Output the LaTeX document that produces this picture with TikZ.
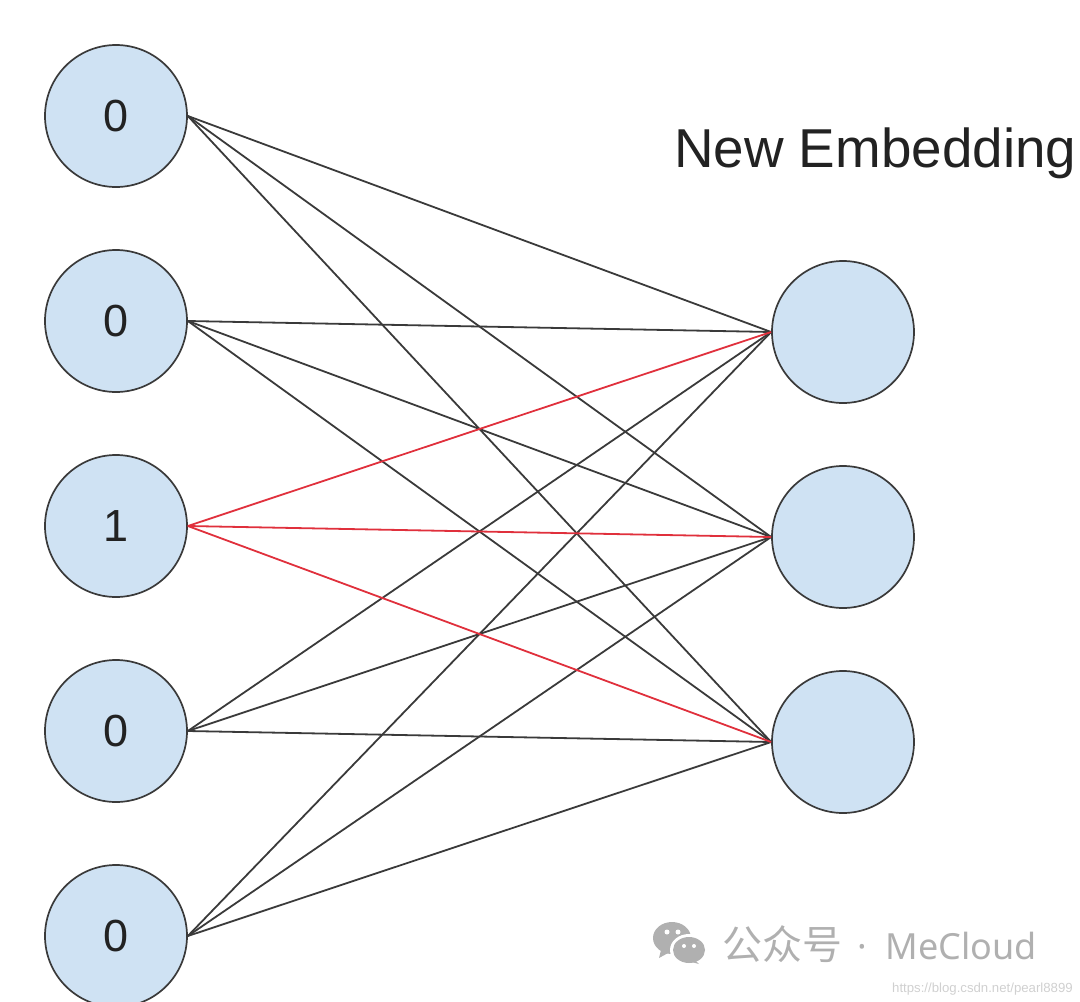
\documentclass[tikz,border=0pt]{standalone}
\usepackage{fontspec}
\setmainfont{Liberation Sans}
\newfontfamily\cjkfont{Noto Sans CJK SC}
\newfontfamily\markfont{Noto Sans}
\usetikzlibrary{positioning}
\definecolor{cellblue}{HTML}{CFE2F3}
\definecolor{edgegrey}{HTML}{3A3A3A}
\definecolor{inkgrey}{HTML}{222222}
\definecolor{hotred}{HTML}{E0303C}
\definecolor{markgrey}{HTML}{B0B0B0}
\tikzset{
    % Define style for the neurons
    neuron/.style={
           circle,
           draw=edgegrey,
           fill=cellblue,
           line width=1.7pt,
           minimum size=142pt,
           inner sep=0pt,
           text=inkgrey,
           font=\fontsize{45}{45}\selectfont},
    % Define style for the connections
    link/.style={
           draw=edgegrey,
           line width=1.8pt},
    hotlink/.style={
           draw=hotred,
           line width=1.8pt},
    % Define style for the watermark
    wmark/.style={
           text=markgrey,
           inner sep=0pt,
           anchor=base west}
}
\begin{document}
\begin{tikzpicture}[x=1pt,y=-1pt]
\useasboundingbox (0,0) rectangle (1080,1002);
\clip (0,0) rectangle (1080,1002);
% First the input column, one node per row
\foreach \row/\val [count=\i] in {116/0,321/0,526/1,731/0,936/0}
    \node[neuron] (in\i) at (116,\row) {\val};

% Now the embedding column
\foreach \row [count=\j] in {332,537,742}
    \node[neuron] (emb\j) at (843,\row) {};

\node[anchor=base west,inner sep=0pt,text=inkgrey,font=\fontsize{54.8}{54.8}\selectfont] (title) at (674,167) {New Embedding};

% Now connect the nodes. The hot input goes last so it stays on top
\foreach \i in {1,2,4,5}
    \foreach \j in {1,2,3}
        \draw[link] (in\i.east) -- (emb\j.west);
\foreach \j in {1,2,3}
    \draw[hotlink] (in3.east) -- (emb\j.west);

% Finally the watermark in the lower corner
\fill[markgrey] (672,938) ellipse (19pt and 16pt);
\fill[markgrey] (661,950) -- (659,958) -- (670,952) -- cycle;
\fill[white] (689,950) ellipse (19pt and 16pt);
\fill[markgrey] (689,950) ellipse (16pt and 13pt);
\fill[markgrey] (695,960) -- (699,964) -- (688,961) -- cycle;
\fill[white] (667,932) circle (2.5pt) (678,932) circle (2.5pt) (684,946) circle (2pt) (694,946) circle (2pt);
\node[wmark,font=\cjkfont\fontsize{40}{40}\selectfont] (brand) at (722,959) {公众号};
\node[wmark,font=\markfont\fontsize{36}{36}\selectfont,right=15pt of brand.base east,anchor=base west] (account) {·\hspace{9pt} MeCloud};
\node[wmark,text=markgrey!60,font=\fontsize{13.2}{13.2}\selectfont] (url) at (892,992) {https://blog.csdn.net/pearl8899};
\end{tikzpicture}
\end{document}
